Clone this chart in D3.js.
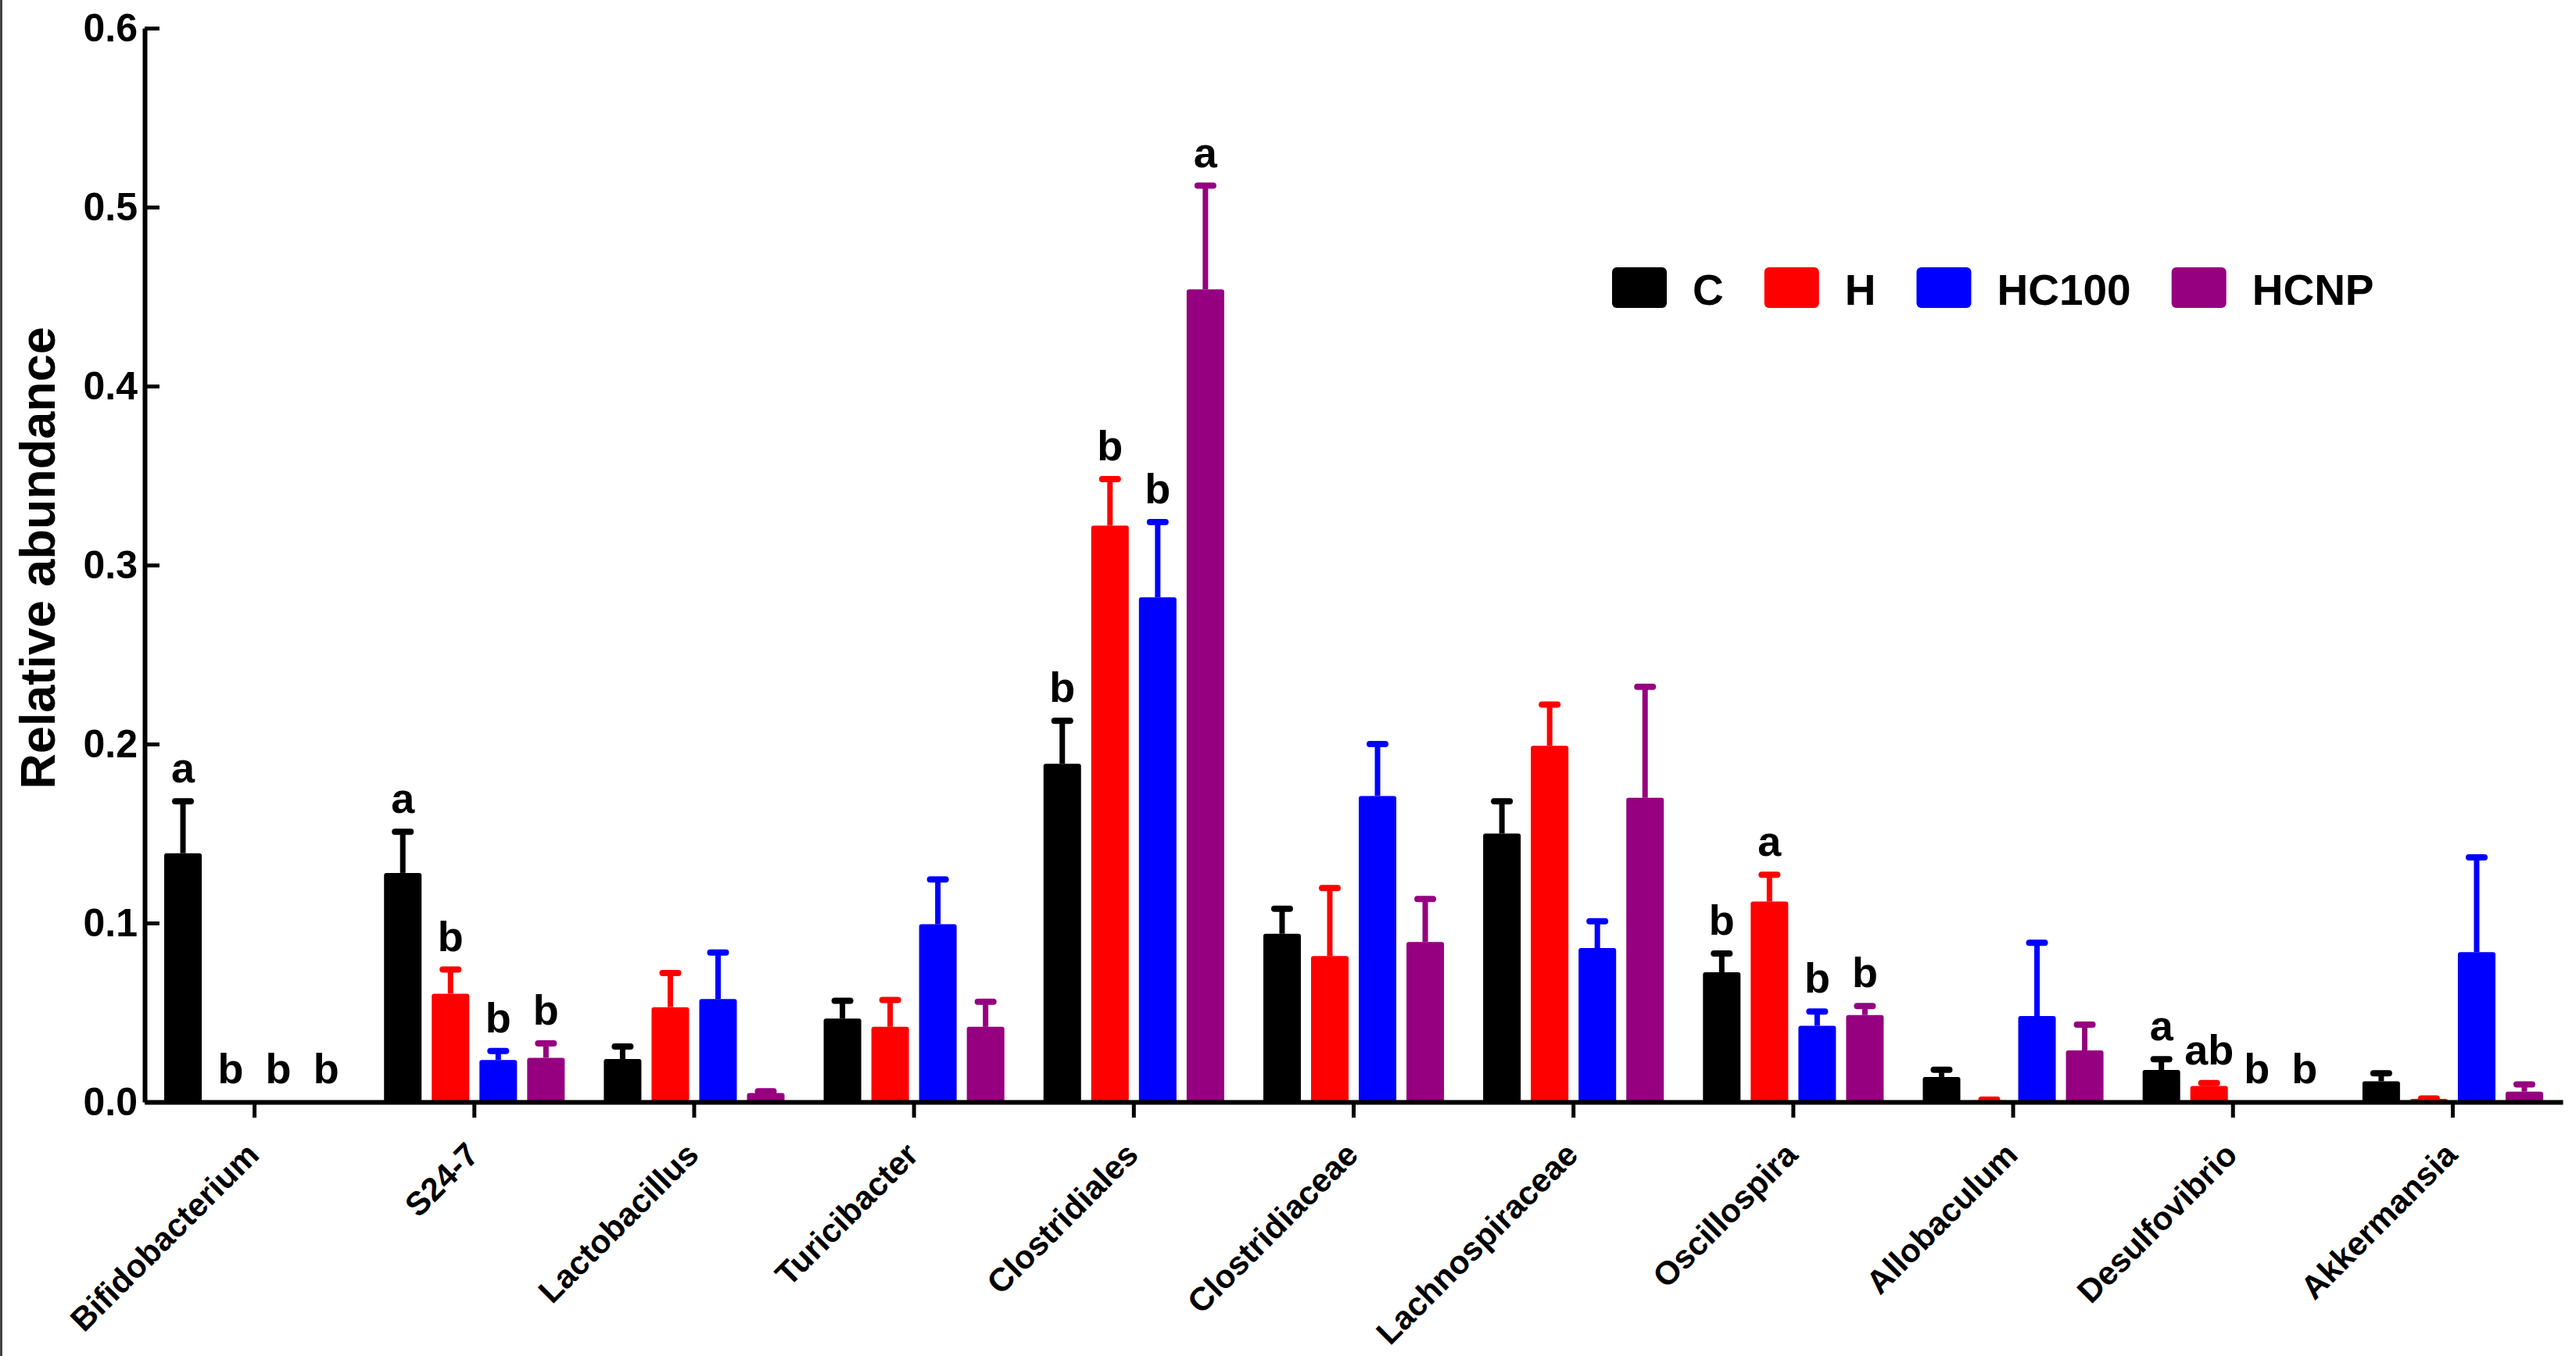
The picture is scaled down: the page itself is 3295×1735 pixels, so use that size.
<!DOCTYPE html>
<html>
<head>
<meta charset="utf-8">
<script src="https://cdn.jsdelivr.net/npm/d3@7"></script>
<style>
  body { margin: 0; background: #fff; }
  text { font-family: "Liberation Sans", Arial, sans-serif; font-weight: bold; }
</style>
</head>
<body>
<script>
var categories = ["Bifidobacterium", "S24-7", "Lactobacillus", "Turicibacter", "Clostridiales",
  "Clostridiaceae", "Lachnospiraceae", "Oscillospira", "Allobaculum", "Desulfovibrio", "Akkermansia"];
var groups = ["C", "H", "HC100", "HCNP"];
var colors = ["#000000", "#ff0000", "#0000ff", "#960080"];

// mean relative abundance per group
var meanC     = [0.139, 0.128, 0.024, 0.0466, 0.189, 0.094, 0.150, 0.0725, 0.014, 0.0179, 0.0116];
var meanH     = [0, 0.0605, 0.053, 0.042, 0.322, 0.0815, 0.199, 0.112, 0.001, 0.009, 0.0017];
var meanHC100 = [0, 0.0235, 0.0575, 0.0993, 0.282, 0.171, 0.086, 0.0426, 0.048, 0, 0.0837];
var meanHCNP  = [0, 0.0247, 0.005, 0.042, 0.454, 0.0894, 0.170, 0.0486, 0.0288, 0, 0.0058];

// standard error (upper bar only)
var semC     = [0.029, 0.023, 0.007, 0.010, 0.024, 0.014, 0.018, 0.0105, 0.004, 0.006, 0.0044];
var semH     = [0, 0.0135, 0.019, 0.015, 0.026, 0.038, 0.023, 0.015, 0.0003, 0.0016, 0.0003];
var semHC100 = [0, 0.005, 0.026, 0.025, 0.042, 0.029, 0.015, 0.008, 0.041, 0, 0.053];
var semHCNP  = [0, 0.008, 0.001, 0.014, 0.058, 0.024, 0.062, 0.005, 0.0144, 0, 0.004];

// significance letters
var lettersC     = ["a", "a", "", "", "b", "", "", "b", "", "a", ""];
var lettersH     = ["b", "b", "", "", "b", "", "", "a", "", "ab", ""];
var lettersHC100 = ["b", "b", "", "", "b", "", "", "b", "", "b", ""];
var lettersHCNP  = ["b", "b", "", "", "a", "", "", "b", "", "b", ""];

var yTicks = [0, 0.1, 0.2, 0.3, 0.4, 0.5, 0.6];

var means = [meanC, meanH, meanHC100, meanHCNP],
    sems = [semC, semH, semHC100, semHCNP],
    letters = [lettersC, lettersH, lettersHC100, lettersHCNP];

var data = [];
categories.forEach(function(c, i) {
  groups.forEach(function(g, j) {
    data.push({cat: c, group: g, color: colors[j], mean: means[j][i], sem: sems[j][i], letter: letters[j][i]});
  });
});

var W = 3295, H = 1735;
var svg = d3.select("body").append("svg")
    .attr("width", W)
    .attr("height", H);

svg.append("line")
    .attr("x1", 1.5).attr("x2", 1.5).attr("y1", 0).attr("y2", H)
    .attr("stroke", "#444").attr("stroke-width", 3);

var x0 = d3.scaleBand()
    .domain(categories)
    .range([185, 3278]);

var x1 = d3.scaleBand()
    .domain(groups)
    .range([0, x0.bandwidth()])
    .paddingInner(0.213)
    .paddingOuter(0.41);

var y = d3.scaleLinear()
    .domain([0, 0.6])
    .range([1410, 36]);

// bars
var bar = svg.append("g").selectAll("g")
  .data(data.filter(function(d) { return d.mean > 0; }))
  .enter().append("g")
    .attr("transform", function(d) { return "translate(" + (x0(d.cat) + x1(d.group)) + ",0)"; });

var bw = x1.bandwidth();

bar.append("line")
    .attr("x1", bw / 2).attr("x2", bw / 2)
    .attr("y1", function(d) { return y(d.mean); })
    .attr("y2", function(d) { return y(d.mean + d.sem); })
    .attr("stroke", function(d) { return d.color; })
    .attr("stroke-width", 7);

bar.append("line")
    .attr("x1", bw / 2 - 10).attr("x2", bw / 2 + 10)
    .attr("y1", function(d) { return y(d.mean + d.sem); })
    .attr("y2", function(d) { return y(d.mean + d.sem); })
    .attr("stroke", function(d) { return d.color; })
    .attr("stroke-width", 8)
    .attr("stroke-linecap", "round");

bar.append("rect")
    .attr("x", 0)
    .attr("width", bw)
    .attr("y", function(d) { return y(d.mean); })
    .attr("height", function(d) { return y(0) - y(d.mean); })
    .attr("rx", 3)
    .attr("fill", function(d) { return d.color; });

// letters
svg.append("g").selectAll("text")
  .data(data.filter(function(d) { return d.letter; }))
  .enter().append("text")
    .attr("x", function(d) { return x0(d.cat) + x1(d.group) + bw / 2; })
    .attr("y", function(d) { return y(d.mean + d.sem) - 24; })
    .attr("text-anchor", "middle")
    .attr("font-size", 54)
    .attr("fill", "#000")
    .text(function(d) { return d.letter; });

// axes
var yAxis = svg.append("g")
    .attr("transform", "translate(185,0)")
    .call(d3.axisLeft(y).tickValues(yTicks).tickFormat(d3.format(".1f"))
      .tickSize(-19).tickSizeOuter(0).tickPadding(9));
yAxis.select(".domain").attr("stroke", "#000").attr("stroke-width", 6);
yAxis.selectAll(".tick line").attr("stroke", "#000").attr("stroke-width", 5);
yAxis.selectAll(".tick text")
    .attr("font-size", 50)
    .attr("fill", "#000")
    .style("font-family", "'Liberation Sans', Arial, sans-serif")
    .style("font-weight", "bold");

var xAxis = svg.append("g")
    .attr("transform", "translate(0,1410)")
    .call(d3.axisBottom(x0).tickSize(20).tickSizeOuter(0));
xAxis.select(".domain").attr("stroke", "#000").attr("stroke-width", 6);
xAxis.selectAll(".tick line").attr("stroke", "#000").attr("stroke-width", 5);
xAxis.selectAll(".tick text")
    .attr("x", 0).attr("y", 0).attr("dy", 0)
    .attr("transform", "translate(8,70) rotate(-45)")
    .attr("text-anchor", "end")
    .attr("font-size", 42)
    .attr("fill", "#000")
    .style("font-family", "'Liberation Sans', Arial, sans-serif")
    .style("font-weight", "bold");

svg.append("text")
    .attr("transform", "translate(70,714) rotate(-90)")
    .attr("text-anchor", "middle")
    .attr("font-size", 63)
    .attr("fill", "#000")
    .text("Relative abundance");

// legend
var legend = svg.append("g").attr("transform", "translate(2062,342)");
var lx = 0;
groups.forEach(function(g, j) {
  var item = legend.append("g").attr("transform", "translate(" + lx + ",0)");
  item.append("rect")
      .attr("width", 70).attr("height", 52).attr("rx", 6)
      .attr("fill", colors[j]);
  var t = item.append("text")
      .attr("x", 103).attr("y", 48)
      .attr("font-size", 55)
      .attr("fill", "#000")
      .text(g);
  lx += 103 + t.node().getComputedTextLength() + 52;
});
</script>
</body>
</html>
